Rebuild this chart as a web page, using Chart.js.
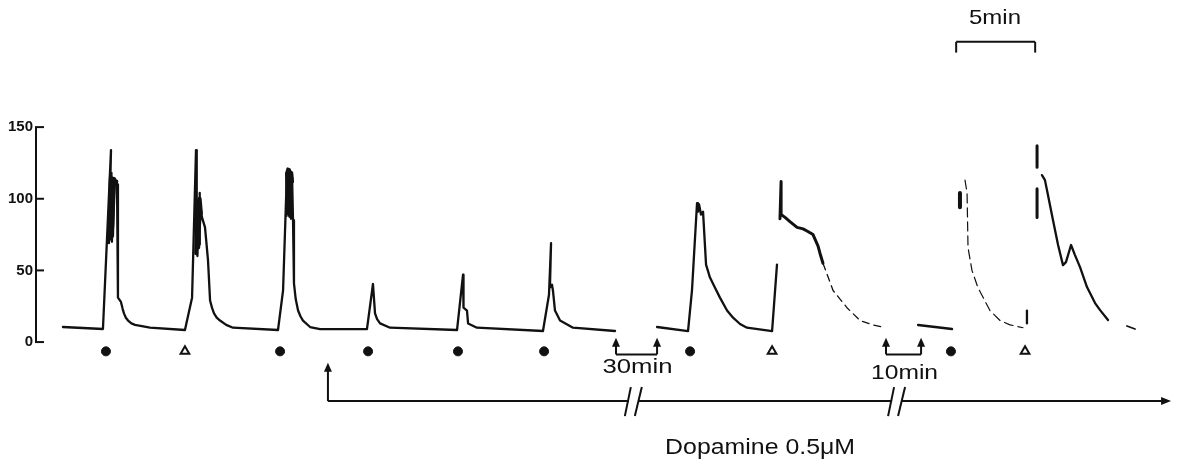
<!DOCTYPE html>
<html>
<head>
<meta charset="utf-8">
<script src="https://cdn.jsdelivr.net/npm/chart.js@4.4.0/dist/chart.umd.min.js"></script>
<style>
  body { margin: 0; background: #fff; }
  #wrap { width: 1178px; height: 463px; }
</style>
</head>
<body>
<div id="wrap"><canvas id="traceChart"></canvas></div>
<script>
// x: minutes along the recording, y: response
const yTicks = [0, 50, 100, 150];

// control responses (before the break)
const controlTrace = [
    [1.77, 10.5], [4.30, 9.1], [4.81, 134], [4.68, 69], [4.84, 118], [4.74, 75], [4.90, 113], [4.87, 70],
    [4.97, 114], [4.94, 80], [5.06, 114], [5.12, 112], [5.19, 110],
    [5.25, 31], [5.44, 28], [5.55, 23], [5.63, 20], [5.75, 17], [5.89, 15], [6.10, 13], [6.33, 12], [7.28, 10], [9.49, 8.4],
    [9.94, 31], [10.19, 134], [10.25, 62], [10.22, 100], [10.28, 60], [10.32, 96], [10.38, 68], [10.44, 104],
    [10.41, 80], [10.50, 92], [10.57, 87], [10.76, 80],
    [10.95, 57], [11.08, 29], [11.20, 24], [11.33, 20], [11.50, 17], [11.71, 15], [12.10, 12], [12.53, 10], [15.38, 8.4],
    [15.70, 36], [15.95, 120], [15.92, 88], [16.01, 121], [15.98, 90], [16.08, 120], [16.05, 92], [16.14, 119],
    [16.20, 86], [16.27, 115], [16.33, 85], [16.39, 41],
    [16.50, 30], [16.65, 22], [16.80, 18], [16.96, 15], [17.41, 10.5], [18.04, 9], [21.01, 9],
    [21.39, 40.5], [21.52, 20], [21.65, 16], [21.84, 13], [22.47, 10], [26.71, 8.4],
    [27.09, 47], [27.12, 24], [27.34, 22], [27.41, 13], [27.97, 10], [32.15, 7.7],
    [32.53, 33], [32.66, 69], [32.59, 38], [32.72, 40], [32.78, 36], [32.91, 22], [33.23, 15], [34.05, 10], [36.71, 7.7]
];
// dense pen overshoot at the top of the first three responses
const peakBlobs = [
    [[4.70, 72], [4.80, 115], [4.88, 74], [4.97, 114], [5.06, 112], [5.15, 112]],
    [[10.20, 62], [10.28, 98], [10.33, 66], [10.42, 100], [10.50, 90]],
    [[15.95, 118], [16.00, 90], [16.08, 120], [16.14, 88], [16.22, 118], [16.27, 112]]
];

// after 30 min
const after30Trace = [
    [39.37, 10.5], [41.33, 7.7], [41.58, 36], [41.90, 97], [41.96, 91], [42.03, 96], [42.15, 89], [42.28, 91],
    [42.47, 54], [42.72, 45], [43.03, 38], [43.35, 31], [43.80, 22], [44.18, 17], [44.62, 12.6], [45.06, 10],
    [46.65, 7.7], [46.96, 54]
];
const after30Plateau = [
    [47.15, 86], [47.22, 112], [47.22, 89], [47.47, 87], [47.78, 84], [48.23, 80], [48.61, 79],
    [48.86, 77.5], [49.24, 75], [49.56, 67], [49.68, 62], [49.87, 55]
];
const after30Fade = [[49.87, 55], [50.51, 36], [51.39, 24], [52.22, 15], [53.04, 12], [53.61, 10.5]];

// after 10 min
const after10Base = [[55.89, 11.9], [58.04, 9.1]];
const after10Blob = [[58.54, 104], [58.54, 94]];
const after10Fade = [
    [58.86, 113], [58.99, 104], [59.05, 66], [59.30, 50], [59.68, 38], [60.44, 22], [61.08, 15], [61.71, 12], [62.53, 10]
];
const after10Tick = [[62.78, 22], [62.78, 13]];
const after10SpikeTop = [[63.42, 137], [63.42, 122]];
const after10SpikeLow = [[63.42, 107], [63.42, 87]];
const after10Decay = [
    [63.73, 116.5], [63.92, 113], [64.11, 102.6], [64.43, 85], [64.75, 67.7], [65.06, 53.7], [65.25, 55.8],
    [65.57, 67.7], [65.82, 60.7], [66.14, 52.3], [66.58, 38.4], [67.09, 27.2], [67.41, 22.3], [67.91, 15.4]
];
const after10Tail = [[69.11, 11.2], [69.62, 9.1]];

// stimulus marks
const dotTimes = [4.49, 15.51, 21.08, 26.77, 32.22, 41.46, 57.97];
const triangleTimes = [9.49, 46.65, 62.66];
const markLevel = -6.5;

function trace(points, width, dash) {
    return {
        data: points.map(p => ({x: p[0], y: p[1]})),
        showLine: true,
        borderColor: '#111',
        borderWidth: width || 2.3,
        borderDash: dash || [],
        borderCapStyle: 'round',
        borderJoinStyle: 'round',
        pointRadius: 0,
        tension: 0
    };
}

function text(ctx, str, x, y, size, width) {
    ctx.save();
    ctx.font = size + 'px "Liberation Sans", Arial, sans-serif';
    const w = ctx.measureText(str).width;
    ctx.translate(x, y);
    ctx.scale(width / w, 1);
    ctx.textAlign = 'center';
    ctx.textBaseline = 'middle';
    ctx.fillText(str, 0, 0);
    ctx.restore();
}

function seg(ctx, x1, y1, x2, y2) {
    ctx.beginPath();
    ctx.moveTo(x1, y1);
    ctx.lineTo(x2, y2);
    ctx.stroke();
}

function head(ctx, x, y, dir) {
    ctx.beginPath();
    if (dir === 'up') {
        ctx.moveTo(x, y); ctx.lineTo(x - 4, y + 9); ctx.lineTo(x + 4, y + 9);
    } else {
        ctx.moveTo(x, y); ctx.lineTo(x - 10, y - 4); ctx.lineTo(x - 10, y + 4);
    }
    ctx.closePath();
    ctx.fill();
}

const annotations = {
    id: 'annotations',
    afterDraw(chart) {
        const {ctx, chartArea, scales: {x, y}} = chart;
        const px = t => x.getPixelForValue(t);
        const py = v => y.getPixelForValue(v);
        ctx.save();
        ctx.strokeStyle = '#111';
        ctx.fillStyle = '#111';
        ctx.lineWidth = 2;

        // y axis with inward ticks
        const ax = chartArea.left + 1;
        seg(ctx, ax, py(0), ax, py(150));
        yTicks.forEach(v => seg(ctx, ax - 1, py(v), ax + 8, py(v)));

        // 5 min scale bar
        seg(ctx, px(58.3), py(202), px(58.3), py(209.5));
        seg(ctx, px(58.3), py(209.5), px(63.3), py(209.5));
        seg(ctx, px(63.3), py(209.5), px(63.3), py(202));
        text(ctx, '5min', px(60.76), py(226), 21, 52);

        // washout gaps
        [[36.77, 39.37, '30min', -17.5, 70], [53.86, 56.08, '10min', -21.5, 67]].forEach(g => {
            const yb = py(-8.6), yt = py(3);
            seg(ctx, px(g[0]), yb, px(g[1]), yb);
            seg(ctx, px(g[0]), yb, px(g[0]), yt + 6);
            seg(ctx, px(g[1]), yb, px(g[1]), yt + 6);
            head(ctx, px(g[0]), yt, 'up');
            head(ctx, px(g[1]), yt, 'up');
            text(ctx, g[2], (px(g[0]) + px(g[1])) / 2 + 1, py(g[3]), 21, g[4]);
        });

        // dopamine application line
        const dl = py(-41.2);
        seg(ctx, px(18.54), dl, px(18.54), py(-16.5));
        head(ctx, px(18.54), py(-14.5), 'up');
        seg(ctx, px(18.54), dl, px(71.3), dl);
        head(ctx, px(71.9), dl, 'right');
        [37.9, 54.56].forEach(t => {
            const c = px(t);
            ctx.save();
            ctx.strokeStyle = '#fff';
            ctx.lineWidth = 6;
            seg(ctx, c - 5, dl, c + 5, dl);
            ctx.restore();
            seg(ctx, c - 9, dl + 15, c - 3, dl - 14);
            seg(ctx, c + 1, dl + 15, c + 8, dl - 14);
        });
        text(ctx, 'Dopamine 0.5\u03bcM', px(45.89), py(-74), 22, 190);
        ctx.restore();
    }
};

new Chart(document.getElementById('traceChart'), {
    type: 'scatter',
    data: {
        datasets: [
            trace(controlTrace),
            ...peakBlobs.map(b => trace(b, 4)),
            trace(after30Trace),
            trace(after30Plateau, 3),
            trace(after30Fade, 1.3, [7, 5]),
            trace(after10Base),
            trace(after10Blob, 4),
            trace(after10Fade, 1.2, [9, 5]),
            trace(after10Tick),
            trace(after10SpikeTop, 3),
            trace(after10SpikeLow, 3),
            trace(after10Decay),
            trace(after10Tail, 1.8),
            {
                data: dotTimes.map(t => ({x: t, y: markLevel})),
                pointStyle: 'circle',
                pointRadius: 4.5,
                backgroundColor: '#111',
                borderColor: '#111'
            },
            {
                data: triangleTimes.map(t => ({x: t, y: markLevel})),
                pointStyle: 'triangle',
                pointRadius: 5,
                backgroundColor: '#fff',
                borderColor: '#111',
                borderWidth: 2
            }
        ]
    },
    options: {
        responsive: true,
        maintainAspectRatio: false,
        animation: false,
        layout: {padding: 0, autoPadding: false},
        scales: {
            x: {
                type: 'linear',
                min: 0,
                max: 72.34,
                display: false
            },
            y: {
                min: -84.4,
                max: 238.7,
                afterBuildTicks: scale => { scale.ticks = yTicks.map(v => ({value: v})); },
                afterFit: scale => { scale.width = 35; scale.paddingTop = 0; scale.paddingBottom = 0; },
                grid: {display: false, drawTicks: false},
                border: {display: false},
                ticks: {
                    padding: 2,
                    color: '#111',
                    font: {family: 'Liberation Sans', size: 15, weight: 'bold'}
                }
            }
        },
        plugins: {
            legend: {display: false},
            tooltip: {enabled: false}
        }
    },
    plugins: [annotations]
});
</script>
</body>
</html>
